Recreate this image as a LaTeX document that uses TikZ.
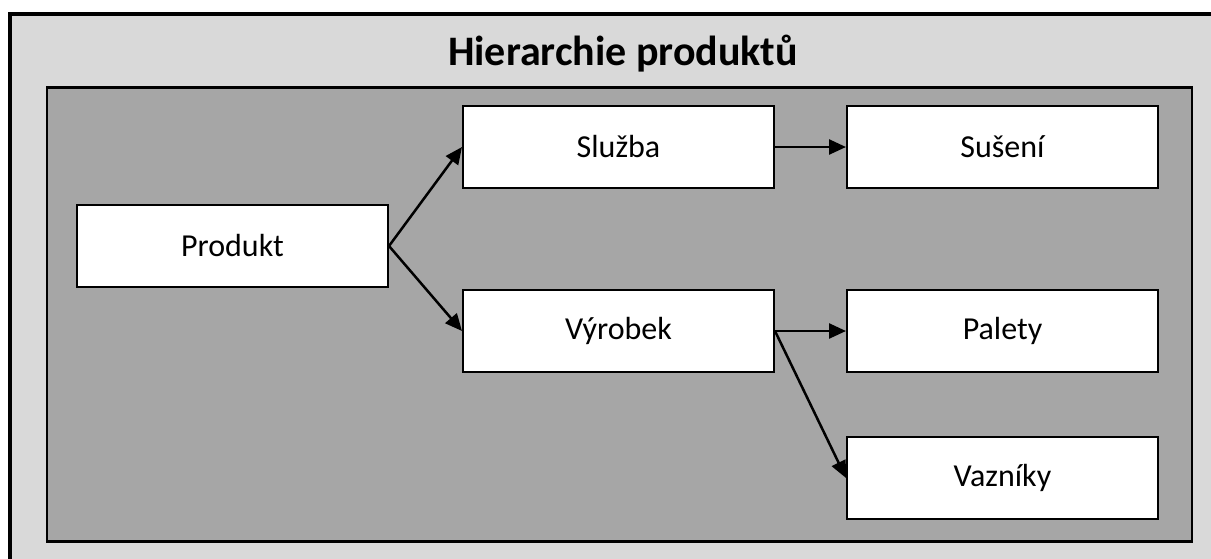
\documentclass[tikz,border=0pt]{standalone}
\usepackage{fontspec}
\setmainfont{Carlito}
\usetikzlibrary{arrows.meta}
\definecolor{paneLight}{HTML}{D9D9D9}
\definecolor{paneDark}{HTML}{A6A6A6}
\tikzset{
  itembox/.style={draw=black, line width=2pt, fill=white, minimum width=311pt,
    minimum height=82pt, inner sep=0pt, font=\fontsize{32}{38}\selectfont},
  link/.style={draw=black, line width=2.5pt,
    -{Triangle[length=17pt,width=15pt]}, shorten >=0pt}
}
\begin{document}
\begin{tikzpicture}[x=1pt, y=-1pt]
  \useasboundingbox (0,0) rectangle (1211,558);
  \clip (0,0) rectangle (1211,558);
  \fill[white] (0,0) rectangle (1211,558);
  % outer frame, running past the right and bottom edges
  \draw[line width=4pt, fill=paneLight] (10,13.5) rectangle (1240,580);
  \node[font=\bfseries\fontsize{42}{50}\selectfont, anchor=base] (title) at (623,65) {Hierarchie produktů};
  % inner panel
  \draw[line width=2.5pt, fill=paneDark] (47,87.5) rectangle (1192,541.5);
  % items
  \node[itembox] (produkt) at (232.5,246) {Produkt};
  \node[itembox] (sluzba)  at (618.5,147) {Služba};
  \node[itembox] (suseni)  at (1002.5,147) {Sušení};
  \node[itembox] (vyrobek) at (618.5,331) {Výrobek};
  \node[itembox] (palety)  at (1002.5,331) {Palety};
  \node[itembox] (vazniky) at (1002.5,478) {Vazníky};
  % connectors
  \draw[link] (produkt.east) -- (sluzba.west);
  \draw[link] (produkt.east) -- (vyrobek.west);
  \draw[link] (sluzba.east) -- (suseni.west);
  \draw[link] (vyrobek.east) -- (palety.west);
  \draw[link] (vyrobek.east) -- (vazniky.west);
\end{tikzpicture}
\end{document}
